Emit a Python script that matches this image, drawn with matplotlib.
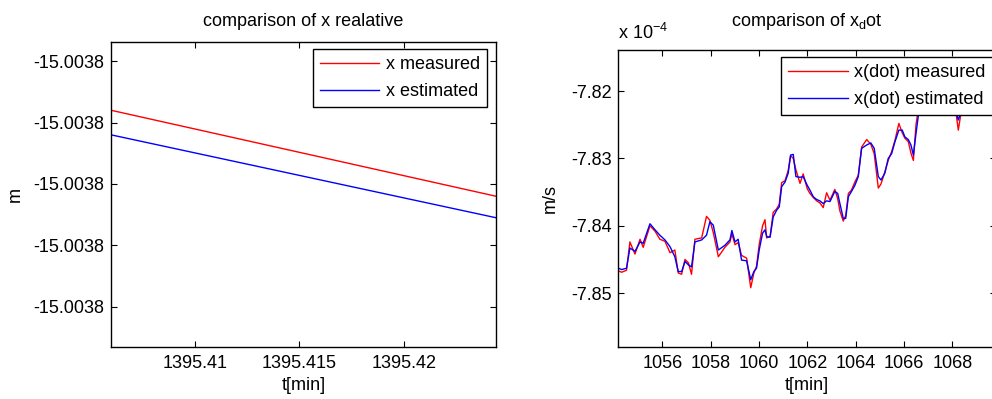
import matplotlib.pyplot as plt
from matplotlib.ticker import FixedLocator, FixedFormatter

plt.rcParams['font.family'] = ['Liberation Sans', 'DejaVu Sans']
plt.rcParams['axes.unicode_minus'] = False
plt.rcParams['mathtext.fontset'] = 'custom'
plt.rcParams['mathtext.rm'] = 'Liberation Sans'
plt.rcParams['mathtext.it'] = 'Liberation Sans'

FS = 13

# left panel: x relative position [m] vs time [min]
t_pos = [1395.406, 1395.4244]
x_measured = [-15.00378016, -15.00378044]
x_estimated = [-15.00378024, -15.00378051]
pos_yticks = [-15.0037808, -15.0037806, -15.0037804, -15.0037802, -15.0037800]
pos_xticks = [1395.41, 1395.415, 1395.42]
pos_xticklabels = ['1395.41', '1395.415', '1395.42']

# right panel: x_dot [1e-4 m/s] vs time [min]
t_vel = [1054.18, 1054.32, 1054.52, 1054.66, 1054.87, 1055.08, 1055.21, 1055.49,
         1055.70, 1055.90, 1056.11, 1056.32, 1056.52, 1056.66, 1056.80, 1056.94,
         1057.08, 1057.21, 1057.35, 1057.63, 1057.83, 1057.97, 1058.11, 1058.32,
         1058.59, 1058.80, 1058.88, 1059.01, 1059.14, 1059.28, 1059.49, 1059.66,
         1059.79, 1059.90, 1060.01, 1060.15, 1060.25, 1060.32, 1060.46, 1060.59,
         1060.73, 1060.84, 1060.94, 1061.08, 1061.21, 1061.31, 1061.42, 1061.53,
         1061.70, 1061.83, 1062.00, 1062.11, 1062.25, 1062.39, 1062.52, 1062.66,
         1062.80, 1062.94, 1063.14, 1063.26, 1063.35, 1063.49, 1063.59, 1063.70,
         1063.83, 1063.97, 1064.11, 1064.25, 1064.46, 1064.63, 1064.77, 1064.94,
         1065.05, 1065.21, 1065.35, 1065.49, 1065.63, 1065.79, 1065.93, 1066.04,
         1066.18, 1066.29, 1066.39, 1066.50, 1066.59, 1066.73, 1067.08, 1067.49,
         1067.90, 1068.11, 1068.25, 1068.39, 1068.73, 1069.14, 1069.64, 1069.85]
xdot_estimated = [-7.8463, -7.8465, -7.8463, -7.8433, -7.8438, -7.8424, -7.8426, -7.8397,
                  -7.8406, -7.8414, -7.8421, -7.8431, -7.8446, -7.8468, -7.8468, -7.8453,
                  -7.8458, -7.8461, -7.8424, -7.8421, -7.8414, -7.8394, -7.8399, -7.8436,
                  -7.8429, -7.8421, -7.8407, -7.8424, -7.8420, -7.8451, -7.8452, -7.8480,
                  -7.8468, -7.8463, -7.8436, -7.8411, -7.8406, -7.8416, -7.8417, -7.8387,
                  -7.8377, -7.8372, -7.8342, -7.8335, -7.8322, -7.8295, -7.8294, -7.8327,
                  -7.8328, -7.8327, -7.8340, -7.8347, -7.8357, -7.8361, -7.8363, -7.8367,
                  -7.8363, -7.8364, -7.8349, -7.8352, -7.8367, -7.8389, -7.8389, -7.8357,
                  -7.8349, -7.8340, -7.8327, -7.8285, -7.8280, -7.8277, -7.8285, -7.8327,
                  -7.8332, -7.8322, -7.8300, -7.8293, -7.8275, -7.8258, -7.8258, -7.8268,
                  -7.8272, -7.8280, -7.8295, -7.8263, -7.8238, -7.8208, -7.8179, -7.8164,
                  -7.8189, -7.8223, -7.8243, -7.8228, -7.8204, -7.8184, -7.8174, -7.8172]
xdot_measured = [-7.8467, -7.8469, -7.8466, -7.8424, -7.8442, -7.8420, -7.8432, -7.8400,
                 -7.8408, -7.8420, -7.8423, -7.8440, -7.8436, -7.8470, -7.8472, -7.8450,
                 -7.8455, -7.8472, -7.8420, -7.8418, -7.8386, -7.8392, -7.8410, -7.8446,
                 -7.8432, -7.8424, -7.8412, -7.8428, -7.8425, -7.8444, -7.8448, -7.8492,
                 -7.8470, -7.8460, -7.8428, -7.8400, -7.8391, -7.8418, -7.8416, -7.8380,
                 -7.8375, -7.8368, -7.8336, -7.8333, -7.8318, -7.8296, -7.8300, -7.8317,
                 -7.8337, -7.8323, -7.8345, -7.8352, -7.8358, -7.8363, -7.8366, -7.8373,
                 -7.8351, -7.8362, -7.8346, -7.8360, -7.8378, -7.8393, -7.8385, -7.8352,
                 -7.8347, -7.8335, -7.8325, -7.8283, -7.8272, -7.8279, -7.8293, -7.8344,
                 -7.8338, -7.8320, -7.8303, -7.8290, -7.8273, -7.8248, -7.8262, -7.8270,
                 -7.8275, -7.8292, -7.8303, -7.8250, -7.8228, -7.8200, -7.8176, -7.8166,
                 -7.8186, -7.8220, -7.8258, -7.8226, -7.8200, -7.8186, -7.8170, -7.8171]
vel_xticks = [1056, 1058, 1060, 1062, 1064, 1066, 1068]
vel_yticks = [-7.85, -7.84, -7.83, -7.82]

W, H = 992, 399
fig = plt.figure(figsize=(W / 100, H / 100), dpi=100)


def px_axes(l, t, r, b):
    return fig.add_axes([l / W, 1 - b / H, (r - l) / W, (b - t) / H])


def style(ax):
    ax.tick_params(direction='in', top=True, right=True, length=4, width=0.8,
                   labelsize=FS)
    ax.tick_params(axis='y', pad=4.5)
    ax.tick_params(axis='x', pad=5.5)
    for s in ax.spines.values():
        s.set_linewidth(1.0)


ax1 = px_axes(111, 42, 496, 347)
ax1.plot(t_pos, x_measured, color='#ff0000', lw=1.0, label='x measured')
ax1.plot(t_pos, x_estimated, color='#0000ff', lw=1.0, label='x estimated')
ax1.set_xlim(1395.406, 1395.4244)
ax1.set_ylim(-15.0037808 - 1.31e-7, -15.00378 + 0.623e-7)
ax1.yaxis.set_major_locator(FixedLocator(pos_yticks))
ax1.yaxis.set_major_formatter(FixedFormatter(['%.4f' % v for v in pos_yticks]))
ax1.xaxis.set_major_locator(FixedLocator(pos_xticks))
ax1.xaxis.set_major_formatter(FixedFormatter(pos_xticklabels))
style(ax1)
ax1.set_xlabel('t[min]', fontsize=FS, va='center')
ax1.xaxis.set_label_coords(0.5, (347 - 385) / 305)
ax1.set_ylabel('m', fontsize=FS, va='center')
ax1.yaxis.set_label_coords((15 - 111) / 385, 0.5)
ax1.text(0.5, (347 - 26) / 305, 'comparison of x realative', transform=ax1.transAxes,
         ha='center', va='baseline', fontsize=FS)
leg1 = ax1.legend(loc='upper right', bbox_to_anchor=((487 - 111) / 385, (347 - 49) / 305),
                  borderaxespad=0, fontsize=FS, fancybox=False, framealpha=1,
                  edgecolor='black', handlelength=3.3, handletextpad=0.35,
                  labelspacing=0.55, borderpad=0.4)
leg1.get_frame().set_linewidth(1.0)

ax2 = px_axes(617.7, 50, 996, 347)
ax2.plot(t_vel, xdot_measured, color='#ff0000', lw=1.0, label='x(dot) measured')
ax2.plot(t_vel, xdot_estimated, color='#0000ff', lw=1.0, label='x(dot) estimated')
ax2.set_xlim(1054.155, 1069.81)
ax2.set_ylim(-7.858, -7.8139)
ax2.xaxis.set_major_locator(FixedLocator(vel_xticks))
ax2.xaxis.set_major_formatter(FixedFormatter([str(v) for v in vel_xticks]))
ax2.yaxis.set_major_locator(FixedLocator(vel_yticks))
ax2.yaxis.set_major_formatter(FixedFormatter(['%.2f' % v for v in vel_yticks]))
style(ax2)
ax2.set_xlabel('t[min]', fontsize=FS, va='center')
ax2.xaxis.set_label_coords(0.5, (347 - 385) / 297)
ax2.set_ylabel('m/s', fontsize=FS, va='center')
ax2.yaxis.set_label_coords((550 - 617.7) / 378.3, 0.5)
ax2.text(0.5, (347 - 26) / 297, r'comparison of x$_\mathregular{d}$ot',
         transform=ax2.transAxes, ha='center', va='baseline', fontsize=FS)
fig.text(618 / W, 1 - 39 / H, r'x 10$^{\mathregular{-4}}$', ha='left', va='baseline',
         fontsize=FS)
leg2 = ax2.legend(loc='upper right', bbox_to_anchor=((993 - 617.7) / 378.3, (347 - 57) / 297),
                  borderaxespad=0, fontsize=FS, fancybox=False, framealpha=1,
                  edgecolor='black', handlelength=3.3, handletextpad=0.35,
                  labelspacing=0.55, borderpad=0.4)
leg2.get_frame().set_linewidth(1.0)

fig.savefig('out.png', dpi=100)
